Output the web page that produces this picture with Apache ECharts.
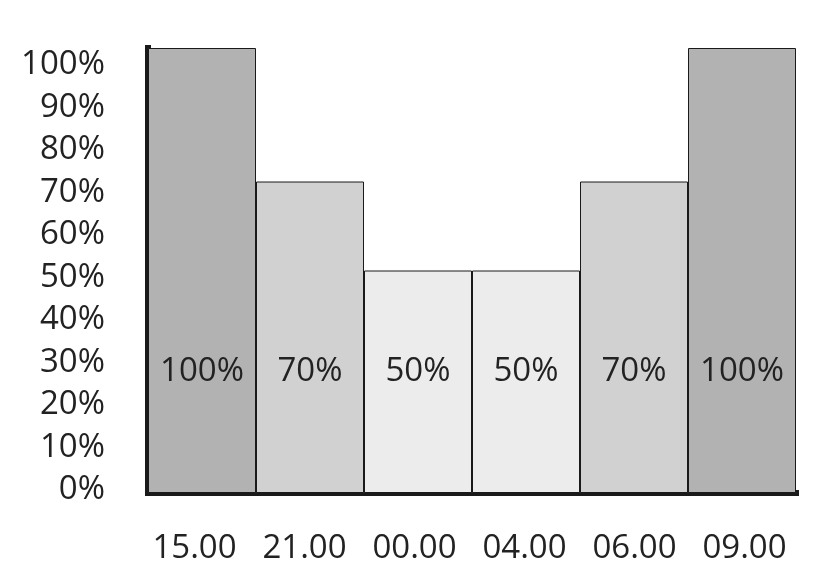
<!DOCTYPE html>
<html><head><meta charset="utf-8">
<script src="https://cdn.jsdelivr.net/npm/echarts@6/dist/echarts.min.js"></script>
<style>html,body{margin:0;padding:0;background:#fff}#c{width:826px;height:572px}</style>
</head><body><div id="c"></div>
<script>
const categories = ['15.00','21.00','00.00','04.00','06.00','09.00'];
const values = [100, 70, 50, 50, 70, 100];
const barColors = ['#b2b2b2','#d1d1d1','#ececec','#ececec','#d1d1d1','#b2b2b2'];
const yTickMin = 0, yTickMax = 100, yTickStep = 10;

const chart = echarts.init(document.getElementById('c'), null, {renderer:'canvas'});
const font = '"Open Sans", "Noto Sans", sans-serif';
chart.setOption({
  animation: false,
  grid: [
    {left:148, right:30, top:48, bottom:79},
    {left:139.5, right:26.5, top:65, bottom:82}
  ],
  xAxis: [
    {type:'category', gridIndex:0, data:categories, boundaryGap:true,
     axisLine:{show:true, lineStyle:{color:'#1a1a1a', width:6, cap:'square'}},
     axisTick:{show:false}, axisLabel:{show:false}},
    {type:'category', gridIndex:1, data:categories, boundaryGap:true,
     axisLine:{show:false}, axisTick:{show:false}, splitLine:{show:false},
     axisLabel:{color:'#222', fontSize:33, fontFamily:font, margin:42, interval:0}}
  ],
  yAxis: [
    {type:'value', gridIndex:0, min:0, max:100,
     axisLine:{show:true, lineStyle:{color:'#1a1a1a', width:6, cap:'square'}},
     axisTick:{show:false}, axisLabel:{show:false}, splitLine:{show:false}},
    {type:'value', gridIndex:1, min:yTickMin, max:yTickMax, interval:yTickStep,
     axisLine:{show:false}, axisTick:{show:false}, splitLine:{show:false},
     axisLabel:{color:'#222', fontSize:33, fontFamily:font, margin:34.5, formatter:'{value}%'}}
  ],
  series: [{
    type:'bar', xAxisIndex:0, yAxisIndex:0,
    barCategoryGap:'0%',
    data: values.map((v,i)=>({value:v, itemStyle:{color:barColors[i]}})),
    itemStyle:{borderColor:'#1a1a1a', borderWidth:1},
    label:{show:true, position:'insideBottom', distance:105, color:'#222',
      fontSize:33, fontFamily:font, lineHeight:33, formatter:'{c}%'},
    z:1
  }]
});
</script></body></html>
